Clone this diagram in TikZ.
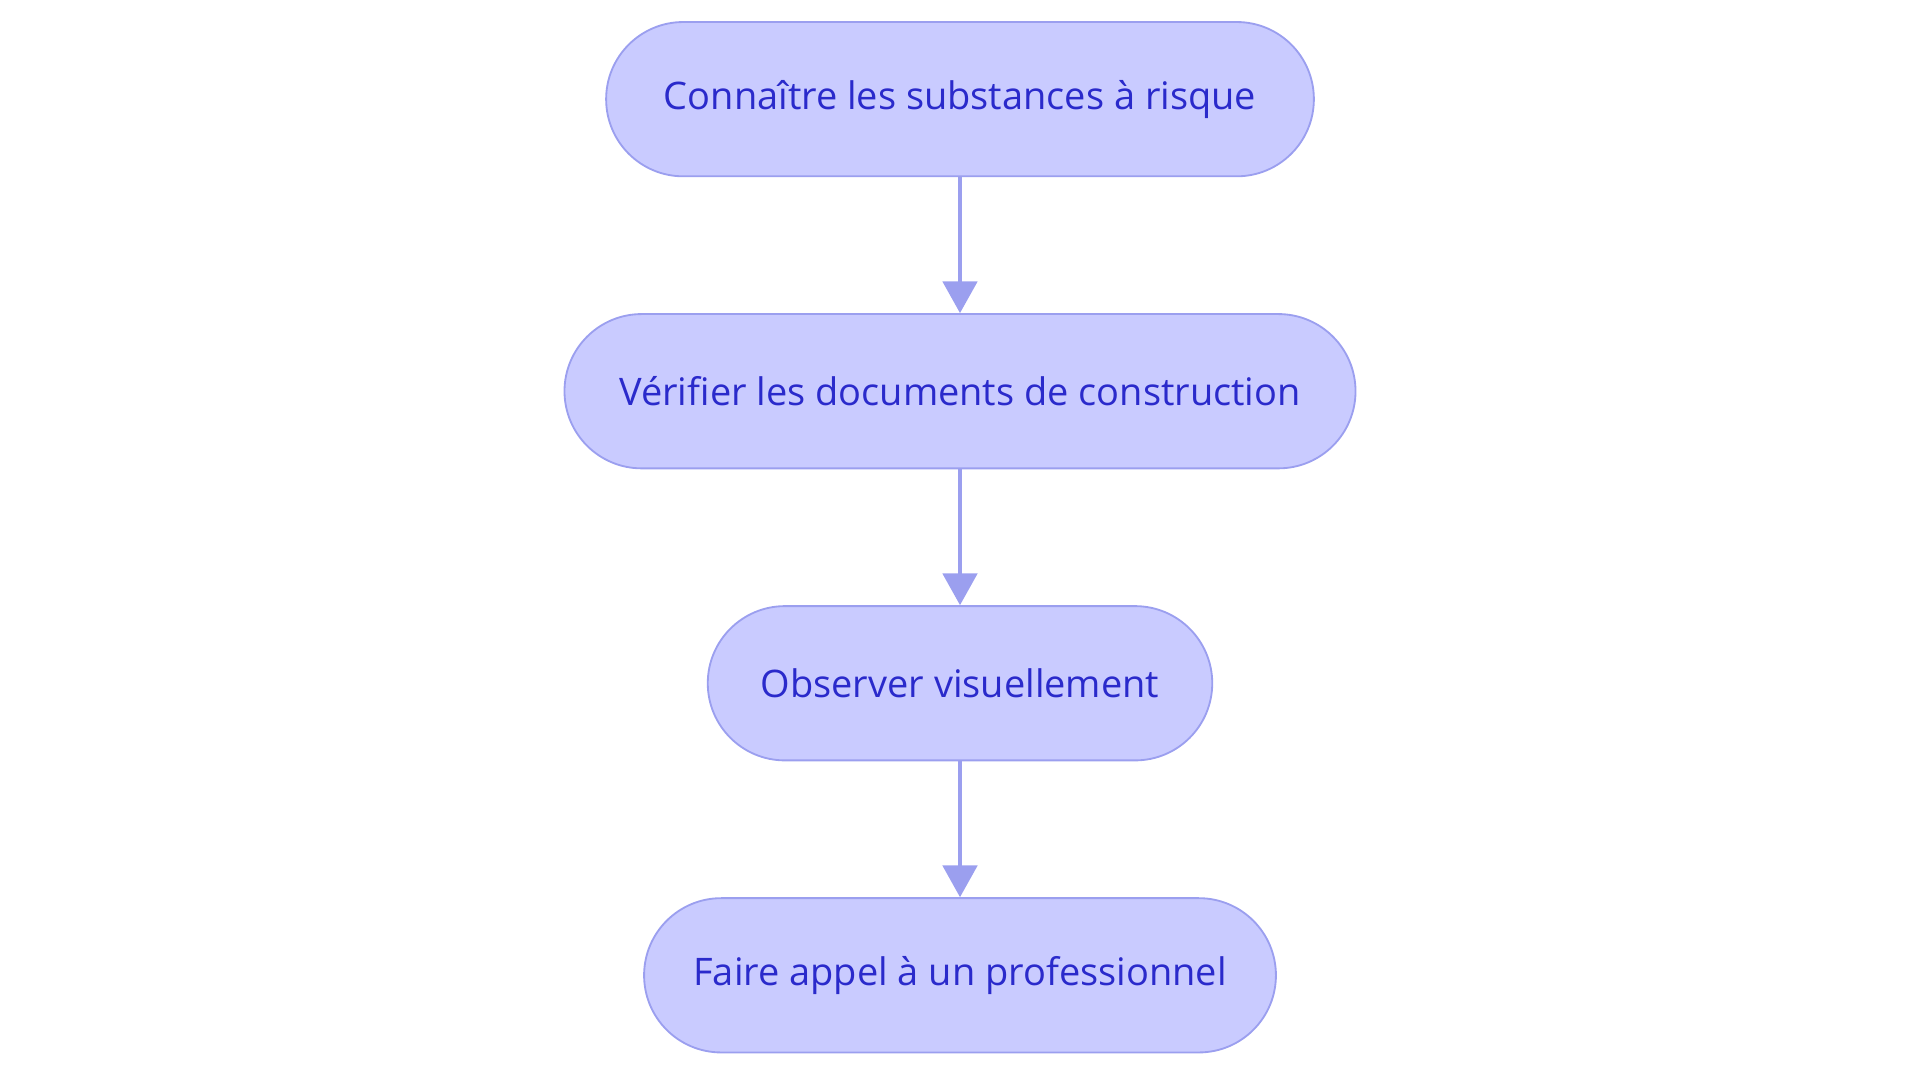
\documentclass[tikz,border=0pt]{standalone}
\usepackage{fontspec}
\setmainfont{Open Sans}
\usetikzlibrary{arrows.meta, positioning}
\definecolor{stepfill}{HTML}{C9CBFF}
\definecolor{stepline}{HTML}{9B9FEF}
\definecolor{steptext}{HTML}{2A2ACB}
\tikzset{
	stage/.style = {rectangle, rounded corners = 63pt, minimum height = 126pt, text centered, draw = stepline, line width = 1.5pt, fill = stepfill, text = steptext, font = \fontsize{31}{36}\selectfont},
	arrow/.style = {-{Triangle[length = 26pt, width = 28pt]}, draw = stepline, line width = 3.5pt}
}
\begin{document}
\begin{tikzpicture}[x = 1pt, y = 1pt]
	\useasboundingbox (0,0) rectangle (1568,884);

		% steps
		\node (know) [stage, minimum width = 578pt] at (784,803) {Connaître les substances à risque};
		\node (docs) [stage, minimum width = 646pt, below = 111pt of know] {Vérifier les documents de construction};
		\node (look) [stage, minimum width = 412pt, below = 111pt of docs] {Observer visuellement};
		\node (pro) [stage, minimum width = 516pt, below = 111pt of look] {Faire appel à un professionnel};

		% arrows
		\draw [arrow] (know) -- (docs);
		\draw [arrow] (docs) -- (look);
		\draw [arrow] (look) -- (pro);
\end{tikzpicture}
\end{document}
